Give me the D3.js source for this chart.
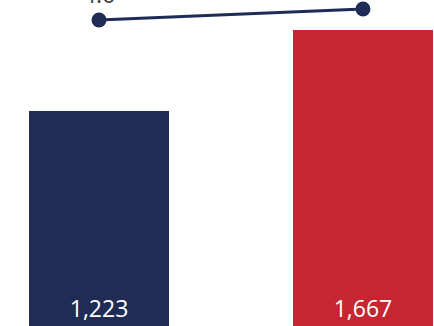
<!DOCTYPE html>
<html>
<head>
<meta charset="utf-8">
<script src="https://cdn.jsdelivr.net/npm/d3@7"></script>
<style>
  html, body { margin: 0; padding: 0; background: #ffffff; }
  svg { display: block; }
</style>
</head>
<body>
<svg id="chart" width="434" height="326"></svg>
<script>
// Categories and series
const categories = ["A", "B"];
const barValues = [1223, 1667];
const lineValues = [4.6, 4.8];
const barColors = ["#1F2D56", "#C62532"];
const lineColor = "#1F2D56";

const svg = d3.select("#chart");
const W = 434, H = 326;

// Band scale spans wider than the viewport so the plot is clipped at the edges
const x = d3.scaleBand()
  .domain(categories)
  .range([-33, 495])
  .paddingInner(0.4697)
  .paddingOuter(0.235);

const yBar = d3.scaleLinear().domain([0, 1667]).range([334, 30]);
const yLine = d3.scaleLinear().domain([4.0, 5.0]).range([53, -2]);

// Bars
svg.append("g").selectAll("rect")
  .data(barValues)
  .join("rect")
  .attr("x", (d, i) => x(categories[i]))
  .attr("width", x.bandwidth())
  .attr("y", d => yBar(d))
  .attr("height", d => yBar(0) - yBar(d))
  .attr("fill", (d, i) => barColors[i]);

// Bar value labels
const fmt = d3.format(",");
svg.append("g").selectAll("text")
  .data(barValues)
  .join("text")
  .attr("x", (d, i) => x(categories[i]) + x.bandwidth() / 2)
  .attr("y", 317)
  .attr("text-anchor", "middle")
  .attr("font-family", "'Open Sans', sans-serif")
  .attr("font-size", 23)
  .attr("fill", "#ffffff")
  .text(d => fmt(d));

// Line series
const cx = (d, i) => x(categories[i]) + x.bandwidth() / 2;
const line = d3.line()
  .x((d, i) => cx(d, i))
  .y(d => yLine(d));

svg.append("path")
  .datum(lineValues)
  .attr("d", line)
  .attr("fill", "none")
  .attr("stroke", lineColor)
  .attr("stroke-width", 3);

svg.append("g").selectAll("circle")
  .data(lineValues)
  .join("circle")
  .attr("cx", cx)
  .attr("cy", d => yLine(d))
  .attr("r", 7.5)
  .attr("fill", lineColor);

// Line value labels
svg.append("g").selectAll("text")
  .data(lineValues)
  .join("text")
  .attr("x", cx)
  .attr("y", d => yLine(d) - 17)
  .attr("text-anchor", "middle")
  .attr("font-family", "'Open Sans', sans-serif")
  .attr("font-size", 23)
  .attr("fill", "#404040")
  .text(d => d.toFixed(1));
</script>
</body>
</html>
